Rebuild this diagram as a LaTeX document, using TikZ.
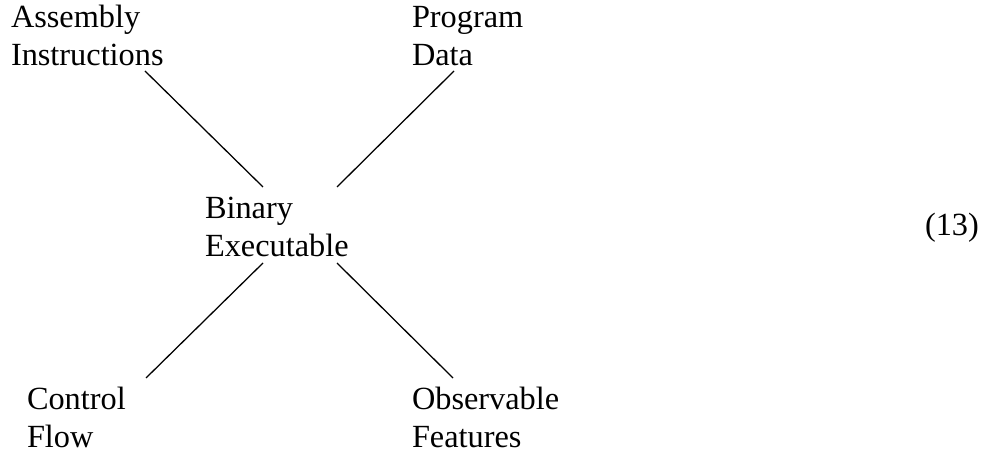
\documentclass[tikz,border=0pt]{standalone}
\usepackage{fontspec}
\setmainfont{Liberation Serif}
\begin{document}
\begin{tikzpicture}[x=0.3125pt,y=-0.3125pt,
  lbl/.style={anchor=base west, inner sep=0pt, outer sep=0pt,
    font=\fontsize{10.1}{11.6}\selectfont},
  link/.style={line width=0.4pt}]
\useasboundingbox (0,0) rectangle (1008,453);

% labels (two lines each, first baseline at the given point)
\node[lbl] (asm) at (11,28)  {\begin{tabular}[t]{@{}l@{}}Assembly\\Instructions\end{tabular}};
\node[lbl] (data) at (412,28) {\begin{tabular}[t]{@{}l@{}}Program\\Data\end{tabular}};
\node[lbl] (bin) at (205,219) {\begin{tabular}[t]{@{}l@{}}Binary\\Executable\end{tabular}};
\node[lbl] (flow) at (27,410) {\begin{tabular}[t]{@{}l@{}}Control\\Flow\end{tabular}};
\node[lbl] (obs) at (412,410) {\begin{tabular}[t]{@{}l@{}}Observable\\Features\end{tabular}};
\node[lbl] (eqno) at (925,236) {(13)};

% connector end points around the central label
\coordinate (bin-nw) at (263,187);
\coordinate (bin-ne) at (337,187);
\coordinate (bin-sw) at (263,263);
\coordinate (bin-se) at (337,263);
\coordinate (asm-end)  at (145,71);
\coordinate (data-end) at (454,71);
\coordinate (flow-end) at (146,378);
\coordinate (obs-end)  at (453,378);

\draw[link] (bin-nw) -- (asm-end);
\draw[link] (bin-ne) -- (data-end);
\draw[link] (bin-sw) -- (flow-end);
\draw[link] (bin-se) -- (obs-end);
\end{tikzpicture}
\end{document}
